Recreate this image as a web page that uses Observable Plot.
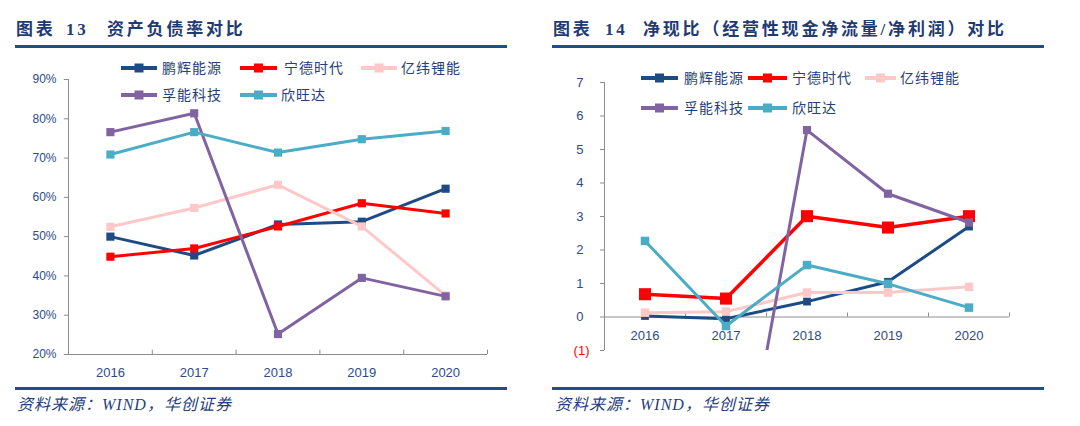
<!DOCTYPE html>
<html>
<head>
<meta charset="utf-8">
<script src="https://cdn.jsdelivr.net/npm/d3@7"></script>
<script src="https://cdn.jsdelivr.net/npm/@observablehq/plot@0.6"></script>
<style>
  html, body { margin:0; padding:0; background:#fff; }
  body { width:1080px; height:426px; position:relative; overflow:hidden; font-family:"Noto Sans CJK SC", sans-serif; }
  .abs { position:absolute; white-space:nowrap; }
  .title { font-family:"Liberation Serif","Noto Sans CJK SC",serif; font-weight:bold; font-size:17px; color:#1F3B72; letter-spacing:2.8px; line-height:20px; }
  .rule { position:absolute; height:3px; background:#1F4E8F; }
  .foot { font-family:"Liberation Serif","Noto Sans CJK SC",serif; font-style:italic; font-size:16px; color:#24407A; letter-spacing:1px; line-height:20px; }
  .leg { font-size:14px; color:#24407A; letter-spacing:1px; line-height:16px; }
  svg.plot { position:absolute; top:0; }
</style>
</head>
<body>
<div id="root"></div>
<script>
// ---------- data ----------
const years = [2016, 2017, 2018, 2019, 2020];
const seriesNames = ["鹏辉能源", "宁德时代", "亿纬锂能", "孚能科技", "欣旺达"];
const seriesColors = ["#1F4B85", "#FF0000", "#FFC8C8", "#8064A2", "#4BACC6"];

// 资产负债率 (%)
const debtPenghui = [50.0, 45.2, 53.1, 53.8, 62.2];
const debtCATL    = [44.9, 47.0, 52.6, 58.5, 55.9];
const debtEVE     = [52.5, 57.3, 63.2, 52.6, 35.0];
const debtFarasis = [76.6, 81.4, 25.2, 39.5, 34.8];
const debtSunwoda = [70.9, 76.6, 71.4, 74.8, 76.9];
const debtTicks = [20, 30, 40, 50, 60, 70, 80, 90];

// 净现比
const cashPenghui = [0.03, -0.05, 0.46, 1.05, 2.70];
const cashCATL    = [0.68, 0.55, 3.01, 2.67, 3.01];
const cashEVE     = [0.13, 0.16, 0.73, 0.73, 0.90];
const cashFarasis = [null, -7.7, 5.58, 3.68, 2.82];
const cashSunwoda = [2.27, -0.27, 1.55, 0.99, 0.28];
const cashTicks = [-1, 0, 1, 2, 3, 4, 5, 6, 7];

const debtSeries = [debtPenghui, debtCATL, debtEVE, debtFarasis, debtSunwoda];
const cashSeries = [cashPenghui, cashCATL, cashEVE, cashFarasis, cashSunwoda];

const axisColor = "#8C8C8C";
const labelColor = "#2B4C8C";
const tickFont = "Liberation Sans, Arial, sans-serif";

function rows(values) {
  return years.map((yr, i) => ({year: yr, value: values[i]})).filter(d => d.value != null);
}

function seriesMarks(seriesList, sizes, widths) {
  const marks = [];
  seriesList.forEach((vals, i) => {
    const data = years.map((yr, j) => ({year: yr, value: vals[j] == null ? NaN : vals[j]}));
    marks.push(Plot.line(data, {x: "year", y: "value", stroke: seriesColors[i], strokeWidth: widths[i], clip: true}));
    marks.push(Plot.dot(rows(vals), {x: "year", y: "value", symbol: "square", r: sizes[i], fill: seriesColors[i], stroke: "none", clip: true}));
  });
  return marks;
}

const root = document.getElementById("root");
function add(html) { root.insertAdjacentHTML("beforeend", html); }

// ---------- left chart ----------
const left = Plot.plot({
  width: 540, height: 426,
  marginLeft: 68, marginRight: 53, marginTop: 79, marginBottom: 72,
  x: {type: "linear", domain: [2015.5, 2020.5], axis: null},
  y: {domain: [20, 90], axis: null},
  style: {background: "transparent", fontFamily: tickFont},
  marks: [
    Plot.ruleX([2015.5], {y1: 20, y2: 90, stroke: axisColor}),
    Plot.ruleY(debtTicks, {x1: 2015.45, x2: 2015.5, stroke: axisColor}),
    Plot.ruleY([20], {x1: 2015.5, x2: 2020.5, stroke: axisColor}),
    Plot.ruleX([2016.5, 2017.5, 2018.5, 2019.5, 2020.5], {y1: 20, y2: 21.1, stroke: axisColor}),
    Plot.text(debtTicks, {x: 2015.5, y: d => d, text: d => d + "%", dx: -12, textAnchor: "end", fill: labelColor, fontSize: 12}),
    Plot.text(years, {x: d => d, y: 20, text: d => String(d), dy: 18, fill: labelColor, fontSize: 13}),
    ...seriesMarks(debtSeries, [4.6, 4.6, 4.6, 4.6, 4.6], [3, 3, 3, 3, 3])
  ]
});
left.classList.add("plot");
left.style.left = "0px";
root.appendChild(left);

// ---------- right chart ----------
const right = Plot.plot({
  width: 540, height: 426,
  marginLeft: 64, marginRight: 71, marginTop: 82, marginBottom: 76,
  x: {type: "linear", domain: [2015.5, 2020.5], axis: null},
  y: {domain: [-1, 7], axis: null},
  style: {background: "transparent", fontFamily: tickFont},
  marks: [
    Plot.ruleX([2015.5], {y1: -1, y2: 7, stroke: axisColor}),
    Plot.ruleY(cashTicks, {x1: 2015.45, x2: 2015.5, stroke: axisColor}),
    Plot.ruleY([0], {x1: 2015.5, x2: 2020.5, stroke: axisColor}),
    Plot.ruleX([2016.5, 2017.5, 2018.5, 2019.5, 2020.5], {y1: 0, y2: 0.12, stroke: axisColor}),
    Plot.text(cashTicks.filter(d => d >= 0), {x: 2015.5, y: d => d, text: d => String(d), dx: -21, textAnchor: "end", fill: labelColor, fontSize: 13}),
    Plot.text(cashTicks.filter(d => d < 0), {x: 2015.5, y: d => d, text: d => "(" + (-d) + ")", dx: -15, textAnchor: "end", fill: "#FF0000", fontSize: 13}),
    Plot.text(years, {x: d => d, y: 0, text: d => String(d), dy: 19, fill: labelColor, fontSize: 13}),
    ...seriesMarks(cashSeries, [4.4, 6.8, 4.8, 4.6, 4.8], [3, 3.5, 3, 3, 3])
  ]
});
right.classList.add("plot");
right.style.left = "540px";
root.appendChild(right);

// ---------- titles, rules, footers ----------
add(`<div class="abs title" style="left:16px;top:20px;">图表</div>`);
add(`<div class="abs title" style="left:66px;top:20px;">13</div>`);
add(`<div class="abs title" style="left:107px;top:20px;">资产负债率对比</div>`);
add(`<div class="rule" style="left:15px;top:45px;width:492px;"></div>`);
add(`<div class="abs title" style="left:553px;top:20px;">图表</div>`);
add(`<div class="abs title" style="left:605px;top:20px;">14</div>`);
add(`<div class="abs title" style="left:643px;top:20px;">净现比（经营性现金净流量/净利润）对比</div>`);
add(`<div class="rule" style="left:552px;top:45px;width:492px;"></div>`);

add(`<div class="rule" style="left:15px;top:387px;width:492px;"></div>`);
add(`<div class="rule" style="left:552px;top:387px;width:492px;"></div>`);
add(`<div class="abs foot" style="left:17px;top:395px;">资料来源：WIND，华创证券</div>`);
add(`<div class="abs foot" style="left:555px;top:395px;">资料来源：WIND，华创证券</div>`);

// ---------- legends ----------
function legendItem(i, lx, lx2, tx, cy) {
  const w = lx2 - lx;
  add(`<svg class="abs" style="left:${lx}px;top:${cy - 6}px;" width="${w}" height="12">
     <line x1="0" x2="${w}" y1="6" y2="6" stroke="${seriesColors[i]}" stroke-width="4" stroke-linecap="round"/>
     <rect x="${w / 2 - 4.5}" y="1.5" width="9" height="9" fill="${seriesColors[i]}"/></svg>`);
  add(`<div class="abs leg" style="left:${tx}px;top:${cy - 9}px;">${seriesNames[i]}</div>`);
}
// left legend
legendItem(0, 121, 157, 162, 68);
legendItem(1, 240, 277, 284, 68);
legendItem(2, 361, 397, 401, 68);
legendItem(3, 121, 157, 162, 95);
legendItem(4, 240, 277, 281, 95);
// right legend
legendItem(0, 641, 678, 684, 78);
legendItem(1, 748, 787, 792, 78);
legendItem(2, 865, 896, 900, 78);
legendItem(3, 641, 678, 684, 108);
legendItem(4, 748, 787, 792, 108);
</script>
</body>
</html>
